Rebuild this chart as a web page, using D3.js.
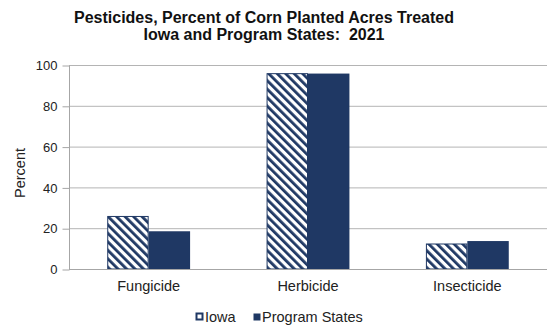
<!DOCTYPE html>
<html>
<head>
<meta charset="utf-8">
<script src="https://cdn.jsdelivr.net/npm/d3@7"></script>
<style>
  body { margin: 0; background: #fff; }
  svg { font-family: Arial, "Liberation Sans", sans-serif; }
  .axis text { font-size: 13px; fill: #222; }
  .axis path, .axis line { stroke: #a6a6a6; }
</style>
</head>
<body>
<svg id="chart" width="550" height="328"></svg>
<script>
const categories = ['Fungicide', 'Herbicide', 'Insecticide'];
const seriesNames = ['Iowa', 'Program States'];
const iowaValues = [26, 96, 12.5];
const programValues = [18.5, 95.8, 13.7];
const yTicks = [0, 20, 40, 60, 80, 100];

const margin = { top: 65, right: 3, bottom: 59, left: 69 };
const w = 550 - margin.left - margin.right;
const h = 328 - margin.top - margin.bottom;
const navy = '#1f3864';

const svg = d3.select('#chart');

// stripe pattern for Iowa
const defs = svg.append('defs');
const pat = defs.append('pattern')
  .attr('id', 'stripes')
  .attr('patternUnits', 'userSpaceOnUse')
  .attr('width', 6)
  .attr('height', 6)
  .attr('patternTransform', 'rotate(-45)');
pat.append('rect').attr('width', 6).attr('height', 6).attr('fill', '#fff');
pat.append('rect').attr('width', 2.8).attr('height', 6).attr('fill', navy);

const g = svg.append('g')
  .attr('transform', 'translate(' + margin.left + ',' + margin.top + ')');

const x0 = d3.scaleBand().domain(categories).range([0, w]).paddingInner(0.48).paddingOuter(0.24);
const x1 = d3.scaleBand().domain(seriesNames).range([0, x0.bandwidth()]);
const y = d3.scaleLinear().domain([0, 100]).range([h, 0]);

// gridlines
g.selectAll('.grid')
  .data(yTicks)
  .enter()
  .append('line')
  .attr('x1', 0)
  .attr('x2', w)
  .attr('y1', d => y(d) + 0.5)
  .attr('y2', d => y(d) + 0.5)
  .attr('stroke', '#b4b4b4')
  .attr('stroke-width', 1);

// y axis
const yAxis = d3.axisLeft(y).tickValues(yTicks).tickSize(7).tickPadding(5);
g.append('g')
  .attr('class', 'axis')
  .attr('transform', 'translate(0.5,0.5)')
  .call(yAxis)
  .call(s => s.select('.domain').attr('d', 'M0,0V' + h));

// bars
const rows = categories.map((c, i) => ({ cat: c, vals: [iowaValues[i], programValues[i]] }));
const grp = g.selectAll('.grp')
  .data(rows)
  .enter()
  .append('g')
  .attr('transform', d => 'translate(' + x0(d.cat) + ',0)');

grp.selectAll('rect')
  .data(d => d.vals.map((v, j) => ({ key: seriesNames[j], v: v })))
  .enter()
  .append('rect')
  .attr('x', d => x1(d.key) + (d.key === 'Iowa' ? 0.5 : 0))
  .attr('y', d => y(d.v) + (d.key === 'Iowa' ? 0.5 : 0))
  .attr('width', d => x1.bandwidth() - (d.key === 'Iowa' ? 1 : 0))
  .attr('height', d => h - y(d.v) - (d.key === 'Iowa' ? 0.5 : 0))
  .attr('fill', d => d.key === 'Iowa' ? 'url(#stripes)' : navy)
  .attr('stroke', d => d.key === 'Iowa' ? navy : 'none')
  .attr('stroke-width', 1);

// baseline
g.append('line')
  .attr('x1', 0).attr('x2', w)
  .attr('y1', h + 0.5).attr('y2', h + 0.5)
  .attr('stroke', '#a6a6a6');

// category labels
g.selectAll('.cat')
  .data(categories)
  .enter()
  .append('text')
  .attr('x', d => x0(d) + x0.bandwidth() / 2)
  .attr('y', h + 22)
  .attr('text-anchor', 'middle')
  .style('font-size', '14.5px')
  .style('fill', '#222')
  .text(d => d);

// y axis title
svg.append('text')
  .attr('transform', 'translate(25,173) rotate(-90)')
  .attr('text-anchor', 'middle')
  .style('font-size', '14.5px')
  .style('fill', '#222')
  .text('Percent');

// title
const title = svg.append('text')
  .attr('text-anchor', 'middle')
  .style('font-size', '16px')
  .style('font-weight', 'bold')
  .style('white-space', 'pre')
  .style('fill', '#111');
title.append('tspan').attr('x', 264).attr('y', 23).text('Pesticides, Percent of Corn Planted Acres Treated');
title.append('tspan').attr('x', 264).attr('y', 40).text('Iowa and Program States:  2021');

// legend
const legend = svg.append('g').attr('transform', 'translate(196,313)');
const items = legend.selectAll('g')
  .data(seriesNames)
  .enter()
  .append('g')
  .attr('transform', (d, i) => 'translate(' + (i === 0 ? 0 : 57) + ',0)');
items.append('rect')
  .attr('x', 0.5).attr('y', 0.5)
  .attr('width', d => d === 'Iowa' ? 6 : 7)
  .attr('height', d => d === 'Iowa' ? 6 : 7)
  .attr('fill', d => d === 'Iowa' ? '#fff' : navy)
  .attr('stroke', d => d === 'Iowa' ? navy : 'none')
  .attr('stroke-width', 2);
items.append('text')
  .attr('x', 9)
  .attr('y', 8.5)
  .style('font-size', '14.5px')
  .style('fill', '#222')
  .text(d => d);
</script>
</body>
</html>
